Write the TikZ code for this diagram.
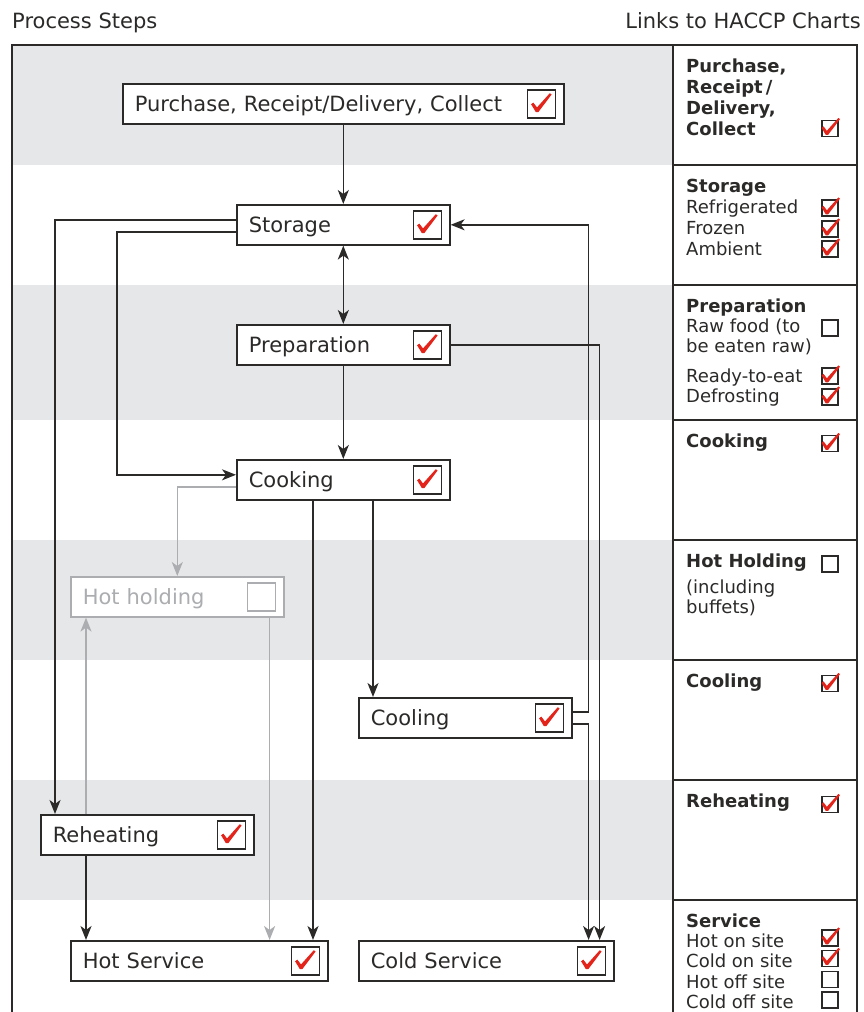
\documentclass[tikz,border=0pt]{standalone}
\usepackage{fontspec}
\setmainfont{DejaVu Sans}
\usetikzlibrary{calc,arrows.meta}
\definecolor{ink}{HTML}{2B2A29}
\definecolor{band}{HTML}{E6E7E8}
\definecolor{faded}{HTML}{ABADB0}
\definecolor{tickred}{HTML}{E3241B}
\tikzset{stepbox/.style={draw=ink,fill=white,line width=1.6pt,minimum height=40,
           inner xsep=12,inner ysep=0,text width=#1,align=left,anchor=north west,
           text height=15,text depth=0,text=ink,font=\fontsize{21}{25}\selectfont},
	 chkbox/.style={draw=ink,line width=1.4pt,fill=white,minimum size=28,inner sep=0},
	 minibox/.style={draw=ink,line width=1.3pt,fill=white,minimum size=16,inner sep=0},
	 headtip/.style={arrows={-Stealth[length=14pt,width=11pt,inset=4pt]}},
	 flow/.style={draw=ink,line width=1.6pt,headtip},
	 twoway/.style={draw=ink,line width=1.6pt,arrows={Stealth[length=14pt,width=11pt,inset=4pt]-Stealth[length=14pt,width=11pt,inset=4pt]}},
	 fadedflow/.style={flow,draw=faded},
	 frame/.style={draw=ink,line width=1.6pt},
	 rhead/.style={anchor=base west,inner sep=0,text=ink,font=\bfseries\fontsize{18}{21}\selectfont},
	 rtext/.style={anchor=base west,inner sep=0,text=ink,font=\fontsize{18}{21}\selectfont},
	 tick/.pic={\fill[tickred] (-10.5,0.5) -- (-8.3,-1.2) -- (-4.6,3.6) -- (8.2,-10.6)
	   -- (10,-9.3) -- (-3.2,8.2) -- (-5.8,8.2) -- cycle;}
	 }
\begin{document}
\begin{tikzpicture}[x=1pt,y=-1pt]
	\useasboundingbox (0,0) rectangle (863,1012);
	% bands and frame
	\foreach \t/\b in {45/165,285/420,540/660,780/900}
	  \fill[band] (12,\t) rectangle (673,\b);
	\draw[frame] (12,1013) -- (12,45) -- (857,45) -- (857,1013);
	\draw[frame] (673,45) -- (673,1013);
	\foreach \y in {165,285,420,540,660,780,900}
	  \draw[frame] (673,\y) -- (857,\y);
	\node[anchor=base west,inner sep=0,text=ink,font=\fontsize{21}{25}\selectfont] (title-l) at (12,28) {Process Steps};
	\node[anchor=base east,inner sep=0,text=ink,font=\fontsize{21}{25}\selectfont] (title-r) at (861,28) {Links to HACCP Charts};
	% process steps
	\node[stepbox=417pt] (purch) at (122,83) {Purchase, Receipt/Delivery, Collect};
	\node[stepbox=189pt] (stor) at (236,204) {Storage};
	\node[stepbox=189pt] (prep) at (236,324) {Preparation};
	\node[stepbox=189pt] (cook) at (236,459) {Cooking};
	\node[stepbox=189pt,draw=faded,text=faded] (hold) at (70,576) {Hot holding};
	\node[stepbox=189pt] (cool) at (358,697) {Cooling};
	\node[stepbox=189pt] (reh) at (40,814) {Reheating};
	\node[stepbox=233pt] (hserv) at (70,940) {Hot Service};
	\node[stepbox=231pt] (cserv) at (358,940) {Cold Service};
	\foreach \n in {purch,stor,prep,cook,cool,reh,hserv,cserv}{
	  \node[chkbox] (\n-c) at ($(\n.east)+(-23,0)$) {};
	  \pic at (\n-c) {tick};
	}
	\node[chkbox,draw=faded] (hold-c) at ($(hold.east)+(-23,0)$) {};
	% connectors
	\draw[flow] (purch.south) -- (stor.north);
	\draw[twoway] (stor.south) -- (prep.north);
	\draw[flow] (prep.south) -- (cook.north);
	\draw[flow] ($(stor.west)+(0,-5)$) -| ($(reh.north west)+(15,0)$);
	\draw[flow] ($(stor.west)+(0,7)$) -- ++(-119,0) |- ($(cook.west)+(0,-5)$);
	\draw[fadedflow] ($(cook.west)+(0,7)$) -| (hold.north);
	\draw[fadedflow] ($(reh.north west)+(46,0)$) -- ($(hold.south west)+(16,0)$);
	\coordinate (hold-o) at ($(hold.south east)+(-15,0)$);
	\draw[fadedflow] (hold-o) -- (hold-o |- hserv.north);
	\coordinate (cook-h) at ($(cook.south west)+(77,0)$);
	\draw[flow] (cook-h) -- (cook-h |- hserv.north);
	\coordinate (cook-k) at ($(cook.south west)+(137,0)$);
	\draw[flow] (cook-k) -- (cook-k |- cool.north);
	\draw[flow] (prep.east) -| ($(cserv.north east)+(-15,0)$);
	\draw[flow] ($(cool.east)+(0,-6)$) -- ++(16,0) |- (stor.east);
	\coordinate (cool-d) at ($(cool.east)+(16,6)$);
	\draw[flow] ($(cool.east)+(0,6)$) -- (cool-d) -- (cool-d |- cserv.north);
	\draw[flow] ($(reh.south west)+(46,0)$) -- ($(hserv.north west)+(16,0)$);
	% links to charts
	\node[rhead] (l-purch1) at (686,72) {Purchase,};
	\node[rhead] (l-purch2) at (686,93) {Receipt\,/};
	\node[rhead] (l-purch3) at (686,114) {Delivery,};
	\node[rhead] (l-purch4) at (686,135) {Collect};
	\node[rhead] (l-stor) at (686,192) {Storage};
	\node[rtext] (l-fridge) at (686,213) {Refrigerated};
	\node[rtext] (l-frozen) at (686,234) {Frozen};
	\node[rtext] (l-amb) at (686,255) {Ambient};
	\node[rhead] (l-prep) at (686,312) {Preparation};
	\node[rtext] (l-raw1) at (686,332) {Raw food (to};
	\node[rtext] (l-raw2) at (686,352) {be eaten raw)};
	\node[rtext] (l-ready) at (686,382) {Ready-to-eat};
	\node[rtext] (l-defrost) at (686,402) {Defrosting};
	\node[rhead] (l-cook) at (686,447) {Cooking};
	\node[rhead] (l-hold) at (686,567) {Hot Holding};
	\node[rtext] (l-buf1) at (686,593) {(including};
	\node[rtext] (l-buf2) at (686,613) {buffets)};
	\node[rhead] (l-cool) at (686,687) {Cooling};
	\node[rhead] (l-reh) at (686,807) {Reheating};
	\node[rhead] (l-serv) at (686,927) {Service};
	\node[rtext] (l-hon) at (686,947) {Hot on site};
	\node[rtext] (l-con) at (686,967) {Cold on site};
	\node[rtext] (l-hoff) at (686,988) {Hot off site};
	\node[rtext] (l-coff) at (686,1008) {Cold off site};
	\foreach \y [count=\i] in {128.5,208,229,249,376,397,443.5,683.5,804.5,938,958.5}{
	  \node[minibox] (m-\i) at (830,\y) {};
	  \pic[scale=0.9] at ($(m-\i)+(1,-1)$) {tick};
	}
	\foreach \y [count=\i] in {328,564,979.5,1000}
	  \node[minibox] (e-\i) at (830,\y) {};
\end{tikzpicture}
\end{document}
